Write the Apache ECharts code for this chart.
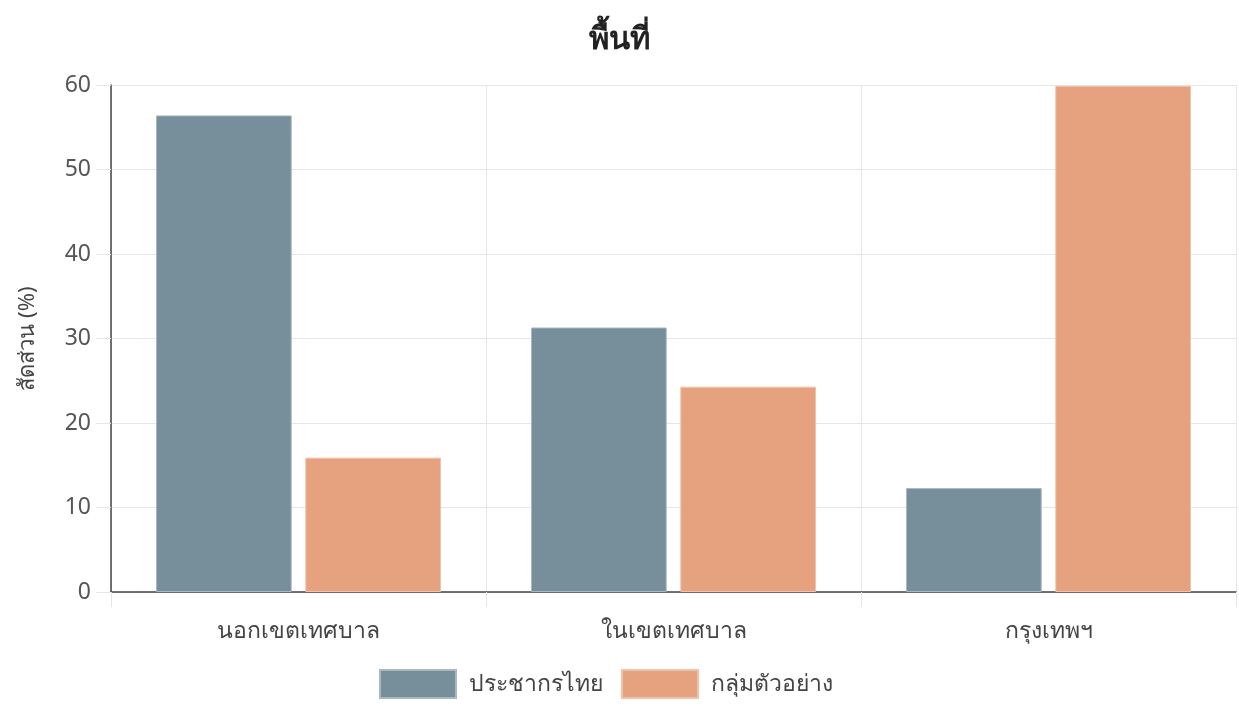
<!DOCTYPE html>
<html>
<head>
<meta charset="utf-8">
<script src="https://cdn.jsdelivr.net/npm/echarts@6/dist/echarts.min.js"></script>
<style>
  html, body { margin: 0; padding: 0; background: #fff; }
  #chart { width: 1239px; height: 706px; }
</style>
</head>
<body>
<div id="chart"></div>
<script>
const CATEGORIES = ['นอกเขตเทศบาล', 'ในเขตเทศบาล', 'กรุงเทพฯ'];
const THAI_POPULATION = [56.4, 31.3, 12.3];
const SAMPLE_GROUP = [15.9, 24.3, 59.9];
const SERIES_NAMES = ['ประชากรไทย', 'กลุ่มตัวอย่าง'];
const Y_TICKS = [0, 10, 20, 30, 40, 50, 60];

const FONT = '"Noto Sans", "Open Sans", sans-serif';
const BLUE = '#778e9b';
const ORANGE = '#e6a27f';

const chart = echarts.init(document.getElementById('chart'), null, { renderer: 'canvas' });

chart.setOption({
  animation: false,
  backgroundColor: '#fff',
  textStyle: { fontFamily: FONT },
  title: {
    text: 'พื้นที่',
    left: 'center',
    top: 20,
    textStyle: { fontSize: 31, fontWeight: 'bold', color: '#222', fontFamily: FONT },
  },
  legend: {
    bottom: 2,
    left: 374,
    itemWidth: 76,
    itemHeight: 28,
    itemGap: 18,
    icon: 'rect',
    textStyle: { fontSize: 23, color: '#444', fontFamily: FONT, padding: [0, 0, 0, 8] },
    data: SERIES_NAMES,
  },
  grid: { left: 111, right: 3, top: 85, bottom: 114, containLabel: false },
  xAxis: {
    type: 'category',
    data: CATEGORIES,
    axisLine: { lineStyle: { color: '#444', width: 1.5 } },
    axisTick: { show: true, length: 15, lineStyle: { color: '#e6e6e6' } },
    axisLabel: { fontSize: 23, color: '#444', margin: 28, fontFamily: FONT },
    splitLine: { show: true, lineStyle: { color: '#e6e6e6' } },
  },
  yAxis: {
    type: 'value',
    min: Y_TICKS[0],
    max: Y_TICKS[Y_TICKS.length - 1],
    interval: 10,
    name: 'สัดส่วน (%)',
    nameLocation: 'middle',
    nameGap: 72,
    nameTextStyle: { fontSize: 22, color: '#444', fontFamily: FONT },
    axisLine: { show: true, lineStyle: { color: '#444', width: 1.5 } },
    axisTick: { show: true, length: 15, lineStyle: { color: '#e6e6e6' } },
    axisLabel: { fontSize: 23, color: '#555', margin: 20, fontFamily: FONT },
    splitLine: { show: true, lineStyle: { color: '#e6e6e6' } },
  },
  series: [
    {
      name: SERIES_NAMES[0],
      type: 'bar',
      data: THAI_POPULATION,
      barGap: '10%',
      barCategoryGap: '24%',
      itemStyle: { color: BLUE, borderColor: '#a9b8c1', borderWidth: 1 },
    },
    {
      name: SERIES_NAMES[1],
      type: 'bar',
      data: SAMPLE_GROUP,
      barGap: '10%',
      barCategoryGap: '24%',
      itemStyle: { color: ORANGE, borderColor: '#f0c2aa', borderWidth: 1 },
    },
  ],
});
</script>
</body>
</html>
